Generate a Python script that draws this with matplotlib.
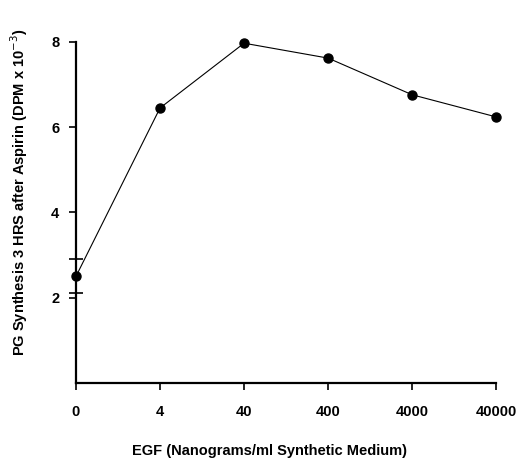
import matplotlib
matplotlib.use('Agg')
import matplotlib.pyplot as plt

plt.rcParams['font.family'] = ['Liberation Sans', 'DejaVu Sans']

# EGF dose categories (ng/ml) and PG synthesis values (DPM x 10^-3)
doses = ['0', '4', '40', '400', '4000', '40000']
pg_values = [2.5, 6.45, 7.97, 7.62, 6.76, 6.24]
pg_err = [0.4, 0, 0, 0, 0, 0]

fig = plt.figure(figsize=(5.24, 4.71), dpi=100)
ax = fig.add_axes([0.145, 0.187, 0.802, 0.724])

xs = list(range(len(doses)))
ax.plot(xs, pg_values, color='black', lw=0.8, marker='o', ms=6.5, zorder=3,
        clip_on=False)
eb = ax.errorbar(xs[:1], pg_values[:1], yerr=pg_err[:1], fmt='none', ecolor='black',
                 elinewidth=1.4, capsize=5, capthick=1.2, zorder=2)
for art in eb.get_children():
    art.set_clip_on(False)

ax.set_xlim(0, 5)
ax.set_ylim(0, 8)
ax.set_xticks(xs)
ax.set_xticklabels(doses)
ax.set_yticks([2, 4, 6, 8])
for s in ['top', 'right']:
    ax.spines[s].set_visible(False)
ax.spines['left'].set_linewidth(1.6)
ax.spines['bottom'].set_linewidth(1.6)
ax.tick_params(direction='out', length=5, width=1.2, labelsize=10.5)
ax.tick_params(axis='x', pad=11)
ax.tick_params(axis='y', pad=7)
for lab in ax.get_xticklabels() + ax.get_yticklabels():
    lab.set_fontweight('bold')

ax.set_ylabel('PG Synthesis 3 HRS after Aspirin (DPM x 10$^{-3}$)',
              fontsize=10.5, fontweight='bold')
ax.yaxis.set_label_coords(-0.11, 0.56)
ax.set_xlabel('EGF (Nanograms/ml Synthetic Medium)', fontsize=10.5,
              fontweight='bold')
ax.xaxis.set_label_coords(0.46, -0.18)

fig.savefig('out.png', dpi=100)
